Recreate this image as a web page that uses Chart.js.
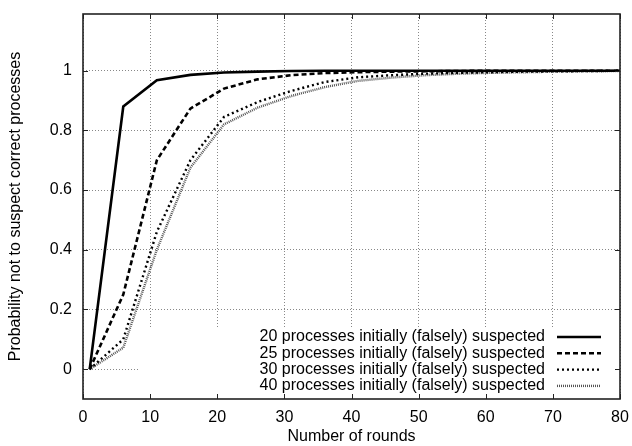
<!DOCTYPE html>
<html>
<head>
<meta charset="utf-8">
<script src="https://cdn.jsdelivr.net/npm/chart.js@4.4.1/dist/chart.umd.min.js"></script>
<style>
    html, body { margin: 0; padding: 0; background: #fff; }
    #wrap { width: 632px; height: 446px; }
</style>
</head>
<body>
<div id="wrap"><canvas id="chart1"></canvas></div>
<script>
    // DATA
    const rounds = [1, 6, 11, 16, 21, 26, 31, 36, 41, 46, 51, 56, 61, 66, 71, 76, 81];
    const p20 = [0, 0.88, 0.968, 0.986, 0.994, 0.997, 0.999, 1, 1, 1, 1, 1, 1, 1, 1, 1, 1];
    const p25 = [0, 0.25, 0.70, 0.873, 0.940, 0.971, 0.985, 0.992, 0.995, 0.997, 0.998, 0.999, 1, 1, 1, 1, 1];
    const p30 = [0, 0.10, 0.46, 0.70, 0.845, 0.895, 0.932, 0.962, 0.978, 0.985, 0.990, 0.993, 0.995, 0.997, 0.998, 0.999, 1];
    const p40 = [0, 0.072, 0.40, 0.675, 0.82, 0.876, 0.915, 0.945, 0.966, 0.977, 0.985, 0.990, 0.993, 0.995, 0.997, 0.998, 0.999];
    const seriesNames = [
        "20 processes initially (falsely) suspected",
        "25 processes initially (falsely) suspected",
        "30 processes initially (falsely) suspected",
        "40 processes initially (falsely) suspected"
    ];
    const xTicks = [0, 10, 20, 30, 40, 50, 60, 70, 80];
    const yTicks = [0, 0.2, 0.4, 0.6, 0.8, 1];

    const FONT = '"Liberation Sans", Arial, Helvetica, sans-serif';
    Chart.defaults.font.family = FONT;
    Chart.defaults.font.size = 16;
    Chart.defaults.color = '#000';

    function pts(ys) {
        return rounds.map(function (x, i) { return { x: x, y: ys[i] }; });
    }

    // gnuplot-like frame, inward ticks and key box
    const frameKey = {
        id: 'frameKey',
        beforeDatasetsDraw: function (chart) {
            const a = chart.chartArea;
            const ctx = chart.ctx;
            ctx.save();
            ctx.fillStyle = '#fff';
            ctx.fillRect(a.left + 55, a.bottom - 71, a.right - a.left - 55, 71);
            ctx.restore();
        },
        afterDatasetsDraw: function (chart) {
            const a = chart.chartArea;
            const ctx = chart.ctx;
            const xs = chart.scales.x, ys = chart.scales.y;
            ctx.save();

            // key
            ctx.font = '16px ' + FONT;
            ctx.textAlign = 'right';
            ctx.textBaseline = 'middle';
            chart.data.datasets.forEach(function (ds, i) {
                const y = a.bottom - 62 + i * 16.3;
                ctx.fillStyle = '#000';
                ctx.fillText(ds.label, a.right - 75, y);
                ctx.beginPath();
                ctx.strokeStyle = ds.borderColor;
                ctx.lineWidth = ds.borderWidth;
                ctx.setLineDash(ds.borderDash || []);
                ctx.moveTo(a.right - 63, y);
                ctx.lineTo(a.right - 19, y);
                ctx.stroke();
            });
            ctx.setLineDash([]);

            // ticks
            ctx.strokeStyle = '#222';
            ctx.lineWidth = 1;
            ctx.beginPath();
            xTicks.forEach(function (v) {
                const px = Math.round(xs.getPixelForValue(v)) + 0.5;
                ctx.moveTo(px, a.bottom); ctx.lineTo(px, a.bottom - 5);
                ctx.moveTo(px, a.top); ctx.lineTo(px, a.top + 5);
            });
            yTicks.forEach(function (v) {
                const py = Math.round(ys.getPixelForValue(v)) + 0.5;
                ctx.moveTo(a.left, py); ctx.lineTo(a.left + 5, py);
                ctx.moveTo(a.right, py); ctx.lineTo(a.right - 5, py);
            });
            ctx.stroke();

            // frame
            ctx.lineWidth = 1.6;
            ctx.strokeStyle = '#222';
            ctx.strokeRect(a.left, a.top, a.right - a.left, a.bottom - a.top);
            ctx.restore();
        }
    };

    // CHART
    new Chart(document.getElementById('chart1'), {
        type: 'line',
        data: {
            datasets: [{
                label: seriesNames[0],
                data: pts(p20),
                borderColor: '#000',
                borderWidth: 2.6,
                borderDash: []
            }, {
                label: seriesNames[1],
                data: pts(p25),
                borderColor: '#000',
                borderWidth: 2.6,
                borderDash: [5, 3]
            }, {
                label: seriesNames[2],
                data: pts(p30),
                borderColor: '#000',
                borderWidth: 2.4,
                borderDash: [2, 3]
            }, {
                label: seriesNames[3],
                data: pts(p40),
                borderColor: '#555',
                borderWidth: 2.4,
                borderDash: [1, 1]
            }]
        },
        options: {
            responsive: true,
            maintainAspectRatio: false,
            animation: false,
            layout: { padding: { left: 0, right: 12, top: 14, bottom: 0 } },
            elements: {
                point: { radius: 0 },
                line: { tension: 0, fill: false }
            },
            plugins: {
                legend: { display: false },
                tooltip: { enabled: false }
            },
            scales: {
                x: {
                    type: 'linear',
                    min: 0,
                    max: 80,
                    afterBuildTicks: function (scale) {
                        scale.ticks = xTicks.map(function (v) { return { value: v }; });
                    },
                    afterFit: function (scale) {
                        scale.height = 47;
                        scale.paddingLeft = 0;
                        scale.paddingRight = 0;
                    },
                    ticks: { padding: 9, maxRotation: 0 },
                    grid: { color: '#888', lineWidth: 1, drawTicks: false },
                    border: { display: false, dash: [1, 2] },
                    title: {
                        display: true,
                        text: 'Number of rounds',
                        font: { size: 16 },
                        padding: { top: 0, bottom: 0 }
                    }
                },
                y: {
                    type: 'linear',
                    min: -0.1,
                    max: 1.19,
                    afterBuildTicks: function (scale) {
                        scale.ticks = yTicks.map(function (v) { return { value: v }; });
                    },
                    afterFit: function (scale) {
                        scale.width = 83;
                        scale.paddingTop = 0;
                        scale.paddingBottom = 0;
                    },
                    ticks: {
                        padding: 11,
                        callback: function (v) { return String(v); }
                    },
                    grid: { color: '#888', lineWidth: 1, drawTicks: false },
                    border: { display: false, dash: [1, 2] },
                    title: {
                        display: true,
                        text: 'Probability not to suspect correct processes',
                        font: { size: 16 },
                        padding: { top: 6, bottom: 0 }
                    }
                }
            }
        },
        plugins: [frameKey]
    });
</script>
</body>
</html>
